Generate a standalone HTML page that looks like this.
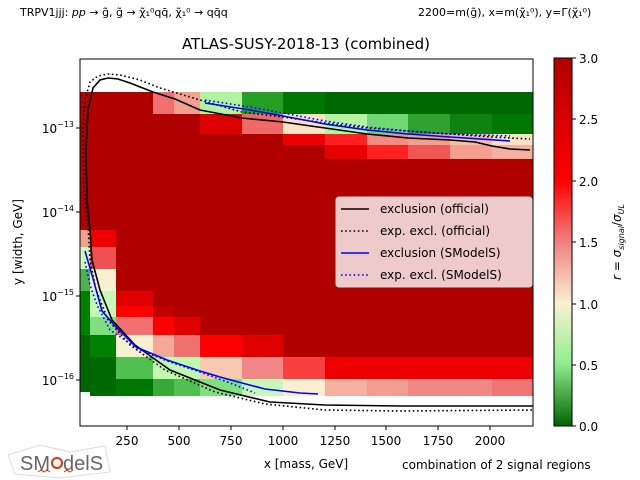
<!DOCTYPE html>
<html><head><meta charset="utf-8"><style>
html,body{margin:0;padding:0;background:#fff;}
svg{display:block;font-family:"DejaVu Sans","Liberation Sans",sans-serif;}
</style></head><body>
<svg width="640" height="480" viewBox="0 0 640 480" xmlns="http://www.w3.org/2000/svg">
<defs>
<linearGradient id="cb" x1="0" y1="1" x2="0" y2="0">
<stop offset="0" stop-color="#006400"/>
<stop offset="0.17" stop-color="#90ee90"/>
<stop offset="0.333" stop-color="#faf0d2"/>
<stop offset="0.5" stop-color="#f08080"/>
<stop offset="0.667" stop-color="#ff0000"/>
<stop offset="1" stop-color="#b00000"/>
</linearGradient>
<clipPath id="pc"><rect x="80" y="59" width="453" height="367"/></clipPath>
</defs>
<g font-size="11" fill="#000">
<text x="20" y="16">TRPV1jjj: <tspan font-style="italic">pp</tspan> → g̃, g̃ → χ̃₁⁰qq̄, χ̃₁⁰ → qq̄q</text>
<text x="418" y="16">2200=m(g̃), x=m(χ̃₁⁰), y=Γ(χ̃₁⁰)</text>
</g>
<text x="306" y="49" font-size="15" text-anchor="middle">ATLAS-SUSY-2018-13 (combined)</text>
<g clip-path="url(#pc)">
<rect x="80" y="92" width="453" height="304" fill="#b00000"/>
<rect x="153" y="92" width="21" height="22" fill="#f07070"/>
<rect x="174" y="92" width="26" height="22" fill="#f4a090"/>
<rect x="200" y="92" width="42" height="22" fill="#b0f4a0"/>
<rect x="242" y="92" width="41" height="22" fill="#25a025"/>
<rect x="283" y="92" width="42" height="22" fill="#007800"/>
<rect x="325" y="92" width="208" height="22" fill="#006800"/>
<rect x="200" y="114" width="42" height="20" fill="#dd0000"/>
<rect x="242" y="114" width="41" height="20" fill="#f06868"/>
<rect x="283" y="114" width="42" height="20" fill="#f8e4c4"/>
<rect x="325" y="114" width="42" height="20" fill="#b8f4a0"/>
<rect x="367" y="114" width="41" height="20" fill="#70d870"/>
<rect x="408" y="114" width="42" height="20" fill="#30a030"/>
<rect x="450" y="114" width="42" height="20" fill="#108010"/>
<rect x="492" y="114" width="41" height="20" fill="#007800"/>
<rect x="283" y="134" width="42" height="11" fill="#ee0000"/>
<rect x="325" y="134" width="42" height="11" fill="#ff2020"/>
<rect x="367" y="134" width="41" height="11" fill="#f08c80"/>
<rect x="408" y="134" width="42" height="11" fill="#f0a090"/>
<rect x="450" y="134" width="42" height="11" fill="#f4c0a8"/>
<rect x="492" y="134" width="41" height="11" fill="#f8e4c4"/>
<rect x="325" y="145" width="42" height="14" fill="#e80000"/>
<rect x="367" y="145" width="41" height="14" fill="#ff2020"/>
<rect x="408" y="145" width="42" height="14" fill="#f05858"/>
<rect x="450" y="145" width="42" height="14" fill="#f4a090"/>
<rect x="492" y="145" width="41" height="14" fill="#f4b0a0"/>
<rect x="80" y="230" width="10" height="17" fill="#f4a090"/>
<rect x="80" y="247" width="10" height="22" fill="#d0f8b8"/>
<rect x="80" y="269" width="10" height="22" fill="#50b050"/>
<rect x="80" y="291" width="10" height="44" fill="#008000"/>
<rect x="80" y="335" width="10" height="57" fill="#006400"/>
<rect x="80" y="392" width="10" height="4" fill="#fff"/>
<rect x="90" y="230" width="26" height="17" fill="#ee0000"/>
<rect x="90" y="247" width="26" height="22" fill="#f05050"/>
<rect x="90" y="269" width="26" height="22" fill="#f8f0d0"/>
<rect x="90" y="291" width="26" height="26" fill="#c8f8b8"/>
<rect x="90" y="317" width="26" height="18" fill="#80e080"/>
<rect x="90" y="335" width="26" height="22" fill="#008000"/>
<rect x="90" y="357" width="26" height="39" fill="#006800"/>
<rect x="116" y="291" width="37" height="15" fill="#e00000"/>
<rect x="116" y="306" width="37" height="11" fill="#ff0000"/>
<rect x="116" y="317" width="37" height="18" fill="#f07070"/>
<rect x="116" y="335" width="37" height="22" fill="#f8f0d0"/>
<rect x="116" y="357" width="37" height="22" fill="#50c050"/>
<rect x="116" y="379" width="37" height="17" fill="#007800"/>
<rect x="153" y="306" width="21" height="11" fill="#c00000"/>
<rect x="153" y="317" width="21" height="18" fill="#ff0000"/>
<rect x="153" y="335" width="21" height="22" fill="#f4a898"/>
<rect x="153" y="357" width="21" height="22" fill="#c0f8b0"/>
<rect x="153" y="379" width="21" height="17" fill="#38a838"/>
<rect x="174" y="317" width="26" height="18" fill="#e00000"/>
<rect x="174" y="335" width="26" height="22" fill="#f07070"/>
<rect x="174" y="357" width="26" height="22" fill="#c0f8b0"/>
<rect x="174" y="379" width="26" height="17" fill="#50c050"/>
<rect x="200" y="335" width="42" height="22" fill="#ff0000"/>
<rect x="200" y="357" width="42" height="22" fill="#f8c8b0"/>
<rect x="200" y="379" width="42" height="17" fill="#80e080"/>
<rect x="242" y="335" width="41" height="22" fill="#e00000"/>
<rect x="242" y="357" width="41" height="22" fill="#f08888"/>
<rect x="242" y="379" width="41" height="17" fill="#c8f8b8"/>
<rect x="283" y="357" width="42" height="22" fill="#f84040"/>
<rect x="283" y="379" width="42" height="17" fill="#f8f0d0"/>
<rect x="325" y="357" width="208" height="22" fill="#ee0000"/>
<rect x="325" y="379" width="42" height="17" fill="#f4b0a0"/>
<rect x="367" y="379" width="41" height="17" fill="#f09c90"/>
<rect x="408" y="379" width="84" height="17" fill="#f08888"/>
<rect x="492" y="379" width="41" height="17" fill="#f07474"/>
<path d="M90,230 L87,200 L86,150 L88,110 L93,88 L100,80 L108,78 L118,79 L130,83 L153,92 L175,99 L200,110 L242,118 L283,122 L325,128 L367,134 L408,138 L450,140 L475,142 L492,146 L510,149 L530,150" fill="none" stroke="#000" stroke-width="1.6"/>
<path d="M90,230 L92,260 L100,290 L112,320 L135,345 L170,370 L220,390 L270,402 L325,405 L400,406 L533,406" fill="none" stroke="#000" stroke-width="1.6"/>
<path d="M88,225 L84,190 L83,130 L85,100 L90,82 L98,76 L108,74 L120,75 L140,80 L160,88 L200,100 L242,112 L283,117 L325,123 L367,128 L408,131 L450,134 L492,137 L530,139" fill="none" stroke="#000" stroke-width="1.6" stroke-dasharray="1.6,2.6"/>
<path d="M88,225 L90,260 L96,290 L108,320 L130,345 L165,370 L215,392 L265,404 L325,410 L400,411 L533,410" fill="none" stroke="#000" stroke-width="1.6" stroke-dasharray="1.6,2.6"/>
<path d="M205,103 L250,110 L283,116 L325,124 L367,130 L408,134 L450,137 L510,141" fill="none" stroke="#0000ff" stroke-width="1.6"/>
<path d="M205,100 L250,107 L283,113 L325,121 L367,127 L408,131 L450,134 L510,136" fill="none" stroke="#0000ff" stroke-width="1.6" stroke-dasharray="1.6,2.6"/>
<path d="M85,251 L92,275 L102,311 L116,327 L136,347 L167,360 L200,371 L220,377 L242,383 L265,389 L300,393 L318,394" fill="none" stroke="#0000ff" stroke-width="1.6"/>
<path d="M85,262 L90,285 L97,305 L110,330 L140,350 L170,362 L200,372 L230,383 L255,393" fill="none" stroke="#0000ff" stroke-width="1.6" stroke-dasharray="1.6,2.6"/>
</g>
<rect x="80" y="59" width="453" height="367" fill="none" stroke="#000" stroke-width="1"/>
<g stroke="#000"><line x1="127" y1="426" x2="127" y2="430"/><line x1="179" y1="426" x2="179" y2="430"/><line x1="231" y1="426" x2="231" y2="430"/><line x1="283" y1="426" x2="283" y2="430"/><line x1="335" y1="426" x2="335" y2="430"/><line x1="386" y1="426" x2="386" y2="430"/><line x1="438" y1="426" x2="438" y2="430"/><line x1="490" y1="426" x2="490" y2="430"/>
<line x1="76" y1="128" x2="80" y2="128"/><line x1="76" y1="212" x2="80" y2="212"/><line x1="76" y1="296" x2="80" y2="296"/><line x1="76" y1="380" x2="80" y2="380"/></g>
<g font-size="12" text-anchor="middle"><text x="127" y="445">250</text><text x="179" y="445">500</text><text x="231" y="445">750</text><text x="283" y="445">1000</text><text x="335" y="445">1250</text><text x="386" y="445">1500</text><text x="438" y="445">1750</text><text x="490" y="445">2000</text></g>
<g font-size="12" text-anchor="end"><text x="74" y="133">10<tspan font-size="8" dy="-6">−13</tspan></text><text x="74" y="217">10<tspan font-size="8" dy="-6">−14</tspan></text><text x="74" y="301">10<tspan font-size="8" dy="-6">−15</tspan></text><text x="74" y="385">10<tspan font-size="8" dy="-6">−16</tspan></text></g>
<text x="306" y="468" font-size="12" text-anchor="middle">x [mass, GeV]</text>
<text x="402" y="469" font-size="12">combination of 2 signal regions</text>
<text transform="translate(22,242) rotate(-90)" font-size="12" text-anchor="middle">y [width, GeV]</text>
<rect x="336" y="197" width="196" height="90" rx="3" fill="#efcaca" stroke="#d8d8d8"/>
<line x1="341" y1="209" x2="369" y2="209" stroke="#000" stroke-width="1.6"/>
<line x1="341" y1="231" x2="369" y2="231" stroke="#000" stroke-width="1.6" stroke-dasharray="1.6,2.6"/>
<line x1="341" y1="253" x2="369" y2="253" stroke="#00f" stroke-width="1.6"/>
<line x1="341" y1="275" x2="369" y2="275" stroke="#00f" stroke-width="1.6" stroke-dasharray="1.6,2.6"/>
<g font-size="12"><text x="380" y="213">exclusion (official)</text><text x="380" y="235">exp. excl. (official)</text><text x="380" y="257">exclusion (SModelS)</text><text x="380" y="279">exp. excl. (SModelS)</text></g>
<rect x="554" y="58" width="18" height="368" fill="url(#cb)" stroke="#000" stroke-width="1"/>
<g stroke="#000"><line x1="572" y1="58" x2="576" y2="58"/><line x1="572" y1="119" x2="576" y2="119"/><line x1="572" y1="181" x2="576" y2="181"/><line x1="572" y1="242" x2="576" y2="242"/><line x1="572" y1="304" x2="576" y2="304"/><line x1="572" y1="365" x2="576" y2="365"/><line x1="572" y1="426" x2="576" y2="426"/></g>
<g font-size="12"><text x="579" y="63">3.0</text><text x="579" y="124">2.5</text><text x="579" y="186">2.0</text><text x="579" y="247">1.5</text><text x="579" y="309">1.0</text><text x="579" y="370">0.5</text><text x="579" y="431">0.0</text></g>
<text transform="translate(621,242) rotate(-90)" font-size="12" text-anchor="middle"><tspan font-style="italic">r</tspan> = <tspan font-style="italic">σ</tspan><tspan font-size="8" dy="3" font-style="italic">signal</tspan><tspan dy="-3">/</tspan><tspan font-style="italic">σ</tspan><tspan font-size="8" dy="3" font-style="italic">UL</tspan></text>
<g opacity="0.5" stroke="#bbb" fill="none"><path d="M8,455 L40,445 L70,452 L105,446 L110,472 L60,478 L15,474 Z"/></g>
<text x="20" y="470" font-size="20" fill="#666" font-family="Liberation Sans,sans-serif">SM</text>
<circle cx="57" cy="463" r="5" fill="none" stroke="#e03010" stroke-width="2"/>
<text x="63" y="470" font-size="20" fill="#666" font-family="Liberation Sans,sans-serif">delS</text>
<path d="M38,472 l3,-2 l3,2 l3,-2 l3,2 M64,472 l3,-2 l3,2 l3,-2" stroke="#e03010" fill="none"/>
</svg>
</body></html>
